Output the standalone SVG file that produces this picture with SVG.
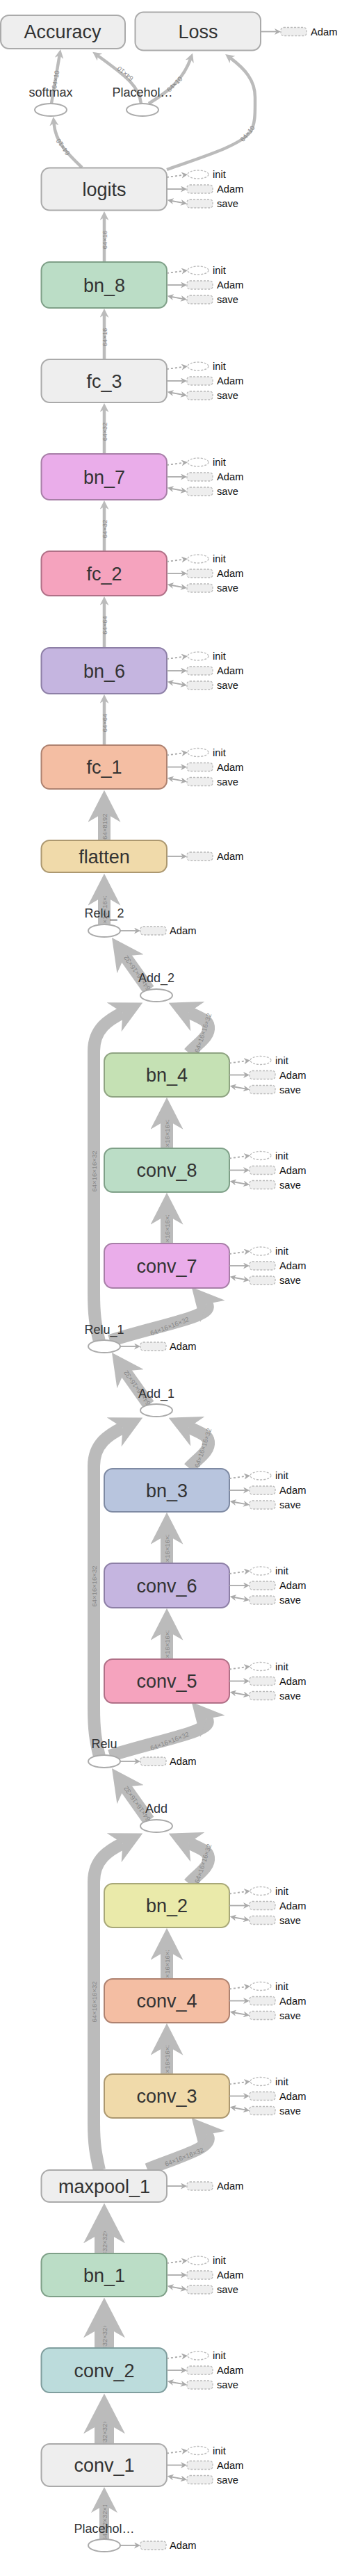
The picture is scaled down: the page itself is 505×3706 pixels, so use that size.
<svg xmlns="http://www.w3.org/2000/svg" width="505" height="3706" viewBox="0 0 505 3706">
<defs>
<style>
text{font-family:"Liberation Sans",Arial,sans-serif}
.bx{stroke-width:2}
.gr{fill:#eee;stroke:#aaa}
.g1{fill:#bbddc6;stroke:#7fa088}
.g2{fill:#eaadea;stroke:#a77fa7}
.g3{fill:#f5a3be;stroke:#b07087}
.g4{fill:#c5b5e0;stroke:#8d7fa6}
.g5{fill:#f4bea3;stroke:#ae8270}
.g6{fill:#f0daaa;stroke:#ac9870}
.g7{fill:#c5e1b4;stroke:#8fa482}
.g8{fill:#b8c5de;stroke:#7e8aa3}
.g9{fill:#eaeaaa;stroke:#a8a878}
.g10{fill:#bcdcdc;stroke:#809e9e}
.nl{font-size:27px;fill:#333;text-anchor:middle}
.ol{font-size:18px;fill:#333;text-anchor:middle}
.op{fill:#fff;stroke:#aaa;stroke-width:2}
.at{font-size:14.7px;fill:#111}
.di{fill:none;stroke:#bbb;stroke-width:1.3;stroke-dasharray:3,2}
.dr{fill:#eee;stroke:#bbb;stroke-width:1.3;stroke-dasharray:3,2}
.sl{fill:none;stroke:#aaa;stroke-width:1.8}
.sd{fill:none;stroke:#aaa;stroke-width:1.8;stroke-dasharray:3,3}
.e{fill:none;stroke:#bbb}
.w1{stroke-width:4.5}
.w2{stroke-width:18}
.w3{stroke-width:28}
.w4{stroke-width:14}
.lb{font-size:9.5px;fill:#888;text-anchor:middle;dominant-baseline:central}
</style>
<marker id="aS" viewBox="0 0 10 10" refX="3" refY="5" markerUnits="userSpaceOnUse" markerWidth="13" markerHeight="13" orient="auto" preserveAspectRatio="none"><path d="M0,0L10,5L0,10L3,5z" fill="#bbb"/></marker>
<marker id="aM" viewBox="0 0 10 10" refX="3" refY="5" markerUnits="userSpaceOnUse" markerWidth="46" markerHeight="47" orient="auto" preserveAspectRatio="none"><path d="M0,0L10,5L0,10L3,5z" fill="#bbb"/></marker>
<marker id="aL" viewBox="0 0 10 10" refX="3" refY="5" markerUnits="userSpaceOnUse" markerWidth="58" markerHeight="60" orient="auto" preserveAspectRatio="none"><path d="M0,0L10,5L0,10L3,5z" fill="#bbb"/></marker>
<marker id="aP" viewBox="0 0 10 10" refX="3" refY="5" markerUnits="userSpaceOnUse" markerWidth="37" markerHeight="38" orient="auto" preserveAspectRatio="none"><path d="M0,0L10,5L0,10L3,5z" fill="#bbb"/></marker>
<marker id="aT" viewBox="0 0 10 10" refX="3" refY="5" markerUnits="userSpaceOnUse" markerWidth="9" markerHeight="9" orient="auto" preserveAspectRatio="none"><path d="M0,0L10,5L0,10L3,5z" fill="#aaa"/></marker>
<marker id="aT2" viewBox="0 0 10 10" refX="3" refY="5" markerUnits="userSpaceOnUse" markerWidth="9" markerHeight="9" orient="auto-start-reverse" preserveAspectRatio="none"><path d="M0,0L10,5L0,10L3,5z" fill="#aaa"/></marker>
<clipPath id="k_c8"><rect x="140" y="1289" width="20" height="41"/></clipPath>
<clipPath id="k_b1d"><rect x="230" y="1611" width="20" height="41"/></clipPath>
<clipPath id="k_b1e"><rect x="230" y="1748" width="20" height="41"/></clipPath>
<clipPath id="k_b2d"><rect x="230" y="2208" width="20" height="41"/></clipPath>
<clipPath id="k_b2e"><rect x="230" y="2346" width="20" height="41"/></clipPath>
<clipPath id="k_b3d"><rect x="230" y="2806" width="20" height="41"/></clipPath>
<clipPath id="k_b3e"><rect x="230" y="2943" width="20" height="41"/></clipPath>
<clipPath id="k_d1"><rect x="140" y="3210" width="20" height="32"/></clipPath>
<clipPath id="k_d2"><rect x="140" y="3346" width="20" height="32"/></clipPath>
<clipPath id="k_d3"><rect x="140" y="3484" width="20" height="32"/></clipPath>
<clipPath id="k_d4"><rect x="140" y="3604" width="20" height="49"/></clipPath>
</defs>

<g id="connectors">
<path class="e w1" d="M118,241 C96,220 80,205 77.5,177" marker-end="url(#aS)"/>
<path class="e w1" d="M74,149 L85.6,80" marker-end="url(#aS)"/>
<path class="e w1" d="M203,149 C200,125 185,112 140.6,80" marker-end="url(#aS)"/>
<path class="e w1" d="M214,149 C238,134 262,118 274,85" marker-end="url(#aS)"/>
<path class="e w1" d="M240,244 C290,226 345,210 360,190 C368,178 367,160 367,140 C367,115 352,99 331.4,83.4" marker-end="url(#aS)"/>
<path class="e w1" d="M150,377 L150,313" marker-end="url(#aS)"/>
<path class="e w1" d="M150,517 L150,453" marker-end="url(#aS)"/>
<path class="e w1" d="M150,653 L150,589" marker-end="url(#aS)"/>
<path class="e w1" d="M150,793 L150,729" marker-end="url(#aS)"/>
<path class="e w1" d="M150,932 L150,867" marker-end="url(#aS)"/>
<path class="e w1" d="M150,1072 L150,1008" marker-end="url(#aS)"/>
<path class="e w2" d="M150,1209 L150,1169" marker-end="url(#aM)"/>
<path class="e w2" d="M150,1330 L150,1289" marker-end="url(#aM)"/>

<path class="e w2" d="M214,1424 L179.6,1375.4" marker-end="url(#aM)"/>
<path class="e w2" d="M143,1930 C137,1905 135,1890 135,1860 L135,1512 C135,1480 156.9,1466.8 176.5,1457" marker-end="url(#aM)"/>
<path class="e w2" d="M272,1515 C283,1502 302,1492 300,1477 C299,1468 290,1465 271.8,1456.4" marker-end="url(#aM)"/>
<path class="e w2" d="M240,1652 L240,1611" marker-end="url(#aM)"/>
<path class="e w2" d="M240,1789 L240,1748" marker-end="url(#aM)"/>
<path class="e w2" d="M158,1929 C230,1906 312,1893 297,1876" marker-end="url(#aM)"/>

<path class="e w2" d="M214,2021 L179.6,1972.4" marker-end="url(#aM)"/>
<path class="e w2" d="M143,2527 C137,2502 135,2487 135,2457 L135,2109 C135,2077 156.9,2063.8 176.5,2054" marker-end="url(#aM)"/>
<path class="e w2" d="M272,2112 C283,2099 302,2089 300,2074 C299,2065 290,2062 271.8,2053.4" marker-end="url(#aM)"/>
<path class="e w2" d="M240,2249 L240,2208" marker-end="url(#aM)"/>
<path class="e w2" d="M240,2387 L240,2346" marker-end="url(#aM)"/>
<path class="e w2" d="M158,2526 C230,2503 312,2490 297,2473" marker-end="url(#aM)"/>

<path class="e w2" d="M214,2619 L179.6,2570.4" marker-end="url(#aM)"/>
<path class="e w2" d="M143,3122 C138,3100 135,3085 135,3055 L135,2707 C135,2675 156.9,2661.8 176.5,2652" marker-end="url(#aM)"/>
<path class="e w2" d="M272,2710 C283,2697 302,2687 300,2672 C299,2663 290,2660 271.8,2651.4" marker-end="url(#aM)"/>
<path class="e w2" d="M240,2847 L240,2806" marker-end="url(#aM)"/>
<path class="e w2" d="M240,2984 L240,2943" marker-end="url(#aM)"/>
<path class="e w2" d="M212,3121 C262,3101 312,3088 297,3071" marker-end="url(#aM)"/>

<path class="e w3" d="M150,3242 L150,3210" marker-end="url(#aL)"/>
<path class="e w3" d="M150,3378 L150,3346" marker-end="url(#aL)"/>
<path class="e w3" d="M150,3516 L150,3484" marker-end="url(#aL)"/>
<path class="e w4" d="M150,3653 L150,3604" marker-end="url(#aP)"/>

<text class="lb" x="90.4" y="211.6" transform="rotate(-125.6 90.4 211.6)">64×10</text>
<text class="lb" x="79.8" y="114.5" transform="rotate(-80.5 79.8 114.5)">64×10</text>
<text class="lb" x="180" y="106" transform="rotate(-140 180 106)">64×10</text>
<text class="lb" x="251" y="121" transform="rotate(-45 251 121)">64×10</text>
<text class="lb" x="356" y="192" transform="rotate(-50 356 192)">64×10</text>
<text class="lb" x="150" y="345" transform="rotate(-90 150 345)">64×16</text>
<text class="lb" x="150" y="485" transform="rotate(-90 150 485)">64×16</text>
<text class="lb" x="150" y="621" transform="rotate(-90 150 621)">64×32</text>
<text class="lb" x="150" y="761" transform="rotate(-90 150 761)">64×32</text>
<text class="lb" x="150" y="899.5" transform="rotate(-90 150 899.5)">64×64</text>
<text class="lb" x="150" y="1040" transform="rotate(-90 150 1040)">64×64</text>
<text class="lb" x="150" y="1189" transform="rotate(-90 150 1189)">64×8192</text>
<g clip-path="url(#k_c8)"><text class="lb" x="150" y="1309.5" transform="rotate(-90 150 1309.5)">64×16×16×32</text></g>

<text class="lb" x="197" y="1400" transform="rotate(-125.3 197 1400)">64×16×16×32</text>
<text class="lb" x="135" y="1685" transform="rotate(-90 135 1685)">64×16×16×32</text>
<text class="lb" x="292" y="1486" transform="rotate(-72 292 1486)">64×16×16×32</text>
<g clip-path="url(#k_b1d)"><text class="lb" x="240" y="1631.5" transform="rotate(-90 240 1631.5)">64×16×16×32</text></g>
<g clip-path="url(#k_b1e)"><text class="lb" x="240" y="1768.5" transform="rotate(-90 240 1768.5)">64×16×16×32</text></g>
<text class="lb" x="244" y="1908" transform="rotate(-21 244 1908)">64×16×16×32</text>

<text class="lb" x="197" y="1997" transform="rotate(-125.3 197 1997)">64×16×16×32</text>
<text class="lb" x="135" y="2282" transform="rotate(-90 135 2282)">64×16×16×32</text>
<text class="lb" x="292" y="2083" transform="rotate(-72 292 2083)">64×16×16×32</text>
<g clip-path="url(#k_b2d)"><text class="lb" x="240" y="2228.5" transform="rotate(-90 240 2228.5)">64×16×16×32</text></g>
<g clip-path="url(#k_b2e)"><text class="lb" x="240" y="2366.5" transform="rotate(-90 240 2366.5)">64×16×16×32</text></g>
<text class="lb" x="244" y="2505" transform="rotate(-21 244 2505)">64×16×16×32</text>

<text class="lb" x="197" y="2595" transform="rotate(-125.3 197 2595)">64×16×16×32</text>
<text class="lb" x="135" y="2880" transform="rotate(-90 135 2880)">64×16×16×32</text>
<text class="lb" x="292" y="2681" transform="rotate(-72 292 2681)">64×16×16×32</text>
<g clip-path="url(#k_b3d)"><text class="lb" x="240" y="2826.5" transform="rotate(-90 240 2826.5)">64×16×16×32</text></g>
<g clip-path="url(#k_b3e)"><text class="lb" x="240" y="2963.5" transform="rotate(-90 240 2963.5)">64×16×16×32</text></g>
<text class="lb" x="265" y="3103" transform="rotate(-21 265 3103)">64×16×16×32</text>

<g clip-path="url(#k_d1)"><text class="lb" x="150" y="3226" transform="rotate(-90 150 3226)">64×32×32×32</text></g>
<g clip-path="url(#k_d2)"><text class="lb" x="150" y="3362" transform="rotate(-90 150 3362)">64×32×32×32</text></g>
<g clip-path="url(#k_d3)"><text class="lb" x="150" y="3500" transform="rotate(-90 150 3500)">64×32×32×32</text></g>
<g clip-path="url(#k_d4)"><text class="lb" x="150" y="3628.5" transform="rotate(-90 150 3628.5)">64×32×32×1</text></g>
</g>

<g id="Accuracy"><rect class="bx gr" x="1" y="22" width="179" height="48" rx="12"/><text class="nl" x="90" y="55">Accuracy</text></g>
<g id="Loss"><rect class="bx gr" x="194.5" y="17.5" width="180.5" height="55" rx="12"/><text class="nl" x="285" y="55">Loss</text>
<path class="sl" d="M375,45.5L397.7,45.5" marker-end="url(#aT)"/><rect class="dr" x="404" y="39.5" width="37" height="12" rx="4"/><text class="at" x="447" y="50.5">Adam</text></g>
<g id="softmax"><ellipse class="op" cx="73" cy="158" rx="23" ry="9"/><text class="ol" x="73" y="139">softmax</text></g>
<g id="Placeholder_1"><ellipse class="op" cx="205" cy="158" rx="23" ry="9"/><text class="ol" x="205" y="139">Placehol…</text></g>

<g id="logits"><rect class="bx gr" x="59.5" y="241.5" width="180.5" height="61" rx="12"/><text class="nl" x="150" y="281.5">logits</text>
<path class="sd" d="M240,255L263.8,251.8" marker-end="url(#aT)"/><ellipse class="di" cx="285" cy="251" rx="15" ry="6"/><text class="at" x="306" y="256">init</text>
<path class="sl" d="M240,272L262.7,272" marker-end="url(#aT)"/><rect class="dr" x="269" y="266" width="37" height="12" rx="4"/><text class="at" x="312" y="277">Adam</text>
<path class="sl" d="M247,289L262.8,291.9" marker-start="url(#aT2)" marker-end="url(#aT2)"/><rect class="dr" x="269" y="287" width="37" height="12" rx="4"/><text class="at" x="312" y="298">save</text></g>

<g id="bn_8"><rect class="bx g1" x="59.5" y="377" width="180.5" height="66" rx="12"/><text class="nl" x="150" y="419.5">bn_8</text>
<path class="sd" d="M240,393L263.8,389.8" marker-end="url(#aT)"/><ellipse class="di" cx="285" cy="389" rx="15" ry="6"/><text class="at" x="306" y="394">init</text>
<path class="sl" d="M240,410L262.7,410" marker-end="url(#aT)"/><rect class="dr" x="269" y="404" width="37" height="12" rx="4"/><text class="at" x="312" y="415">Adam</text>
<path class="sl" d="M247,427L262.8,429.9" marker-start="url(#aT2)" marker-end="url(#aT2)"/><rect class="dr" x="269" y="425" width="37" height="12" rx="4"/><text class="at" x="312" y="436">save</text></g>

<g id="fc_3"><rect class="bx gr" x="59.5" y="517" width="180.5" height="62" rx="12"/><text class="nl" x="150" y="557.5">fc_3</text>
<path class="sd" d="M240,531L263.8,527.8" marker-end="url(#aT)"/><ellipse class="di" cx="285" cy="527" rx="15" ry="6"/><text class="at" x="306" y="532">init</text>
<path class="sl" d="M240,548L262.7,548" marker-end="url(#aT)"/><rect class="dr" x="269" y="542" width="37" height="12" rx="4"/><text class="at" x="312" y="553">Adam</text>
<path class="sl" d="M247,565L262.8,567.9" marker-start="url(#aT2)" marker-end="url(#aT2)"/><rect class="dr" x="269" y="563" width="37" height="12" rx="4"/><text class="at" x="312" y="574">save</text></g>

<g id="bn_7"><rect class="bx g2" x="59.5" y="653" width="180.5" height="66" rx="12"/><text class="nl" x="150" y="695.5">bn_7</text>
<path class="sd" d="M240,669L263.8,665.8" marker-end="url(#aT)"/><ellipse class="di" cx="285" cy="665" rx="15" ry="6"/><text class="at" x="306" y="670">init</text>
<path class="sl" d="M240,686L262.7,686" marker-end="url(#aT)"/><rect class="dr" x="269" y="680" width="37" height="12" rx="4"/><text class="at" x="312" y="691">Adam</text>
<path class="sl" d="M247,703L262.8,705.9" marker-start="url(#aT2)" marker-end="url(#aT2)"/><rect class="dr" x="269" y="701" width="37" height="12" rx="4"/><text class="at" x="312" y="712">save</text></g>

<g id="fc_2"><rect class="bx g3" x="59.5" y="793" width="180.5" height="64" rx="12"/><text class="nl" x="150" y="834.5">fc_2</text>
<path class="sd" d="M240,808L263.8,804.8" marker-end="url(#aT)"/><ellipse class="di" cx="285" cy="804" rx="15" ry="6"/><text class="at" x="306" y="809">init</text>
<path class="sl" d="M240,825L262.7,825" marker-end="url(#aT)"/><rect class="dr" x="269" y="819" width="37" height="12" rx="4"/><text class="at" x="312" y="830">Adam</text>
<path class="sl" d="M247,842L262.8,844.9" marker-start="url(#aT2)" marker-end="url(#aT2)"/><rect class="dr" x="269" y="840" width="37" height="12" rx="4"/><text class="at" x="312" y="851">save</text></g>

<g id="bn_6"><rect class="bx g4" x="59.5" y="932" width="180.5" height="66" rx="12"/><text class="nl" x="150" y="974.5">bn_6</text>
<path class="sd" d="M240,948L263.8,944.8" marker-end="url(#aT)"/><ellipse class="di" cx="285" cy="944" rx="15" ry="6"/><text class="at" x="306" y="949">init</text>
<path class="sl" d="M240,965L262.7,965" marker-end="url(#aT)"/><rect class="dr" x="269" y="959" width="37" height="12" rx="4"/><text class="at" x="312" y="970">Adam</text>
<path class="sl" d="M247,982L262.8,984.9" marker-start="url(#aT2)" marker-end="url(#aT2)"/><rect class="dr" x="269" y="980" width="37" height="12" rx="4"/><text class="at" x="312" y="991">save</text></g>

<g id="fc_1"><rect class="bx g5" x="59.5" y="1072" width="180.5" height="63" rx="12"/><text class="nl" x="150" y="1113">fc_1</text>
<path class="sd" d="M240,1086.5L263.8,1083.3" marker-end="url(#aT)"/><ellipse class="di" cx="285" cy="1082.5" rx="15" ry="6"/><text class="at" x="306" y="1087.5">init</text>
<path class="sl" d="M240,1103.5L262.7,1103.5" marker-end="url(#aT)"/><rect class="dr" x="269" y="1097.5" width="37" height="12" rx="4"/><text class="at" x="312" y="1108.5">Adam</text>
<path class="sl" d="M247,1120.5L262.8,1123.4" marker-start="url(#aT2)" marker-end="url(#aT2)"/><rect class="dr" x="269" y="1118.5" width="37" height="12" rx="4"/><text class="at" x="312" y="1129.5">save</text></g>

<g id="flatten"><rect class="bx g6" x="59.5" y="1209" width="180.5" height="46" rx="12"/><text class="nl" x="150" y="1241.5">flatten</text>
<path class="sl" d="M240,1232L262.7,1232" marker-end="url(#aT)"/><rect class="dr" x="269" y="1226" width="37" height="12" rx="4"/><text class="at" x="312" y="1237">Adam</text></g>

<g id="Relu_2"><ellipse class="op" cx="150" cy="1339" rx="23" ry="9"/><text class="ol" x="150" y="1320">Relu_2</text>
<path class="sl" d="M173,1339L195.7,1339" marker-end="url(#aT)"/><rect class="dr" x="202" y="1333" width="37" height="12" rx="4"/><text class="at" x="244" y="1344">Adam</text></g>
<g id="Add_2"><ellipse class="op" cx="225" cy="1432" rx="23" ry="9"/><text class="ol" x="225" y="1413">Add_2</text></g>

<g id="bn_4"><rect class="bx g7" x="150" y="1515" width="180" height="63" rx="12"/><text class="nl" x="240" y="1556">bn_4</text>
<path class="sd" d="M330,1529.5L353.8,1526.3" marker-end="url(#aT)"/><ellipse class="di" cx="375" cy="1525.5" rx="15" ry="6"/><text class="at" x="396" y="1530.5">init</text>
<path class="sl" d="M330,1546.5L352.7,1546.5" marker-end="url(#aT)"/><rect class="dr" x="359" y="1540.5" width="37" height="12" rx="4"/><text class="at" x="402" y="1551.5">Adam</text>
<path class="sl" d="M337,1563.5L352.8,1566.4" marker-start="url(#aT2)" marker-end="url(#aT2)"/><rect class="dr" x="359" y="1561.5" width="37" height="12" rx="4"/><text class="at" x="402" y="1572.5">save</text></g>

<g id="conv_8"><rect class="bx g1" x="150" y="1652" width="180" height="63" rx="12"/><text class="nl" x="240" y="1693">conv_8</text>
<path class="sd" d="M330,1666.5L353.8,1663.3" marker-end="url(#aT)"/><ellipse class="di" cx="375" cy="1662.5" rx="15" ry="6"/><text class="at" x="396" y="1667.5">init</text>
<path class="sl" d="M330,1683.5L352.7,1683.5" marker-end="url(#aT)"/><rect class="dr" x="359" y="1677.5" width="37" height="12" rx="4"/><text class="at" x="402" y="1688.5">Adam</text>
<path class="sl" d="M337,1700.5L352.8,1703.4" marker-start="url(#aT2)" marker-end="url(#aT2)"/><rect class="dr" x="359" y="1698.5" width="37" height="12" rx="4"/><text class="at" x="402" y="1709.5">save</text></g>

<g id="conv_7"><rect class="bx g2" x="150" y="1789" width="180" height="64" rx="12"/><text class="nl" x="240" y="1830.5">conv_7</text>
<path class="sd" d="M330,1804L353.8,1800.8" marker-end="url(#aT)"/><ellipse class="di" cx="375" cy="1800" rx="15" ry="6"/><text class="at" x="396" y="1805">init</text>
<path class="sl" d="M330,1821L352.7,1821" marker-end="url(#aT)"/><rect class="dr" x="359" y="1815" width="37" height="12" rx="4"/><text class="at" x="402" y="1826">Adam</text>
<path class="sl" d="M337,1838L352.8,1840.9" marker-start="url(#aT2)" marker-end="url(#aT2)"/><rect class="dr" x="359" y="1836" width="37" height="12" rx="4"/><text class="at" x="402" y="1847">save</text></g>

<g id="Relu_1"><ellipse class="op" cx="150" cy="1937" rx="23" ry="9"/><text class="ol" x="150" y="1919">Relu_1</text>
<path class="sl" d="M173,1937L195.7,1937" marker-end="url(#aT)"/><rect class="dr" x="202" y="1931" width="37" height="12" rx="4"/><text class="at" x="244" y="1942">Adam</text></g>
<g id="Add_1"><ellipse class="op" cx="225" cy="2029" rx="23" ry="9"/><text class="ol" x="225" y="2011">Add_1</text></g>

<g id="bn_3"><rect class="bx g8" x="150" y="2113" width="180" height="62" rx="12"/><text class="nl" x="240" y="2153.5">bn_3</text>
<path class="sd" d="M330,2127L353.8,2123.8" marker-end="url(#aT)"/><ellipse class="di" cx="375" cy="2123" rx="15" ry="6"/><text class="at" x="396" y="2128">init</text>
<path class="sl" d="M330,2144L352.7,2144" marker-end="url(#aT)"/><rect class="dr" x="359" y="2138" width="37" height="12" rx="4"/><text class="at" x="402" y="2149">Adam</text>
<path class="sl" d="M337,2161L352.8,2163.9" marker-start="url(#aT2)" marker-end="url(#aT2)"/><rect class="dr" x="359" y="2159" width="37" height="12" rx="4"/><text class="at" x="402" y="2170">save</text></g>

<g id="conv_6"><rect class="bx g4" x="150" y="2249" width="180" height="64" rx="12"/><text class="nl" x="240" y="2290.5">conv_6</text>
<path class="sd" d="M330,2264L353.8,2260.8" marker-end="url(#aT)"/><ellipse class="di" cx="375" cy="2260" rx="15" ry="6"/><text class="at" x="396" y="2265">init</text>
<path class="sl" d="M330,2281L352.7,2281" marker-end="url(#aT)"/><rect class="dr" x="359" y="2275" width="37" height="12" rx="4"/><text class="at" x="402" y="2286">Adam</text>
<path class="sl" d="M337,2298L352.8,2300.9" marker-start="url(#aT2)" marker-end="url(#aT2)"/><rect class="dr" x="359" y="2296" width="37" height="12" rx="4"/><text class="at" x="402" y="2307">save</text></g>

<g id="conv_5"><rect class="bx g3" x="150" y="2387" width="180" height="63" rx="12"/><text class="nl" x="240" y="2428">conv_5</text>
<path class="sd" d="M330,2401.5L353.8,2398.3" marker-end="url(#aT)"/><ellipse class="di" cx="375" cy="2397.5" rx="15" ry="6"/><text class="at" x="396" y="2402.5">init</text>
<path class="sl" d="M330,2418.5L352.7,2418.5" marker-end="url(#aT)"/><rect class="dr" x="359" y="2412.5" width="37" height="12" rx="4"/><text class="at" x="402" y="2423.5">Adam</text>
<path class="sl" d="M337,2435.5L352.8,2438.4" marker-start="url(#aT2)" marker-end="url(#aT2)"/><rect class="dr" x="359" y="2433.5" width="37" height="12" rx="4"/><text class="at" x="402" y="2444.5">save</text></g>

<g id="Relu"><ellipse class="op" cx="150" cy="2534" rx="23" ry="9"/><text class="ol" x="150" y="2515">Relu</text>
<path class="sl" d="M173,2534L195.7,2534" marker-end="url(#aT)"/><rect class="dr" x="202" y="2528" width="37" height="12" rx="4"/><text class="at" x="244" y="2539">Adam</text></g>
<g id="Add"><ellipse class="op" cx="225" cy="2627" rx="23" ry="9"/><text class="ol" x="225" y="2608">Add</text></g>

<g id="bn_2"><rect class="bx g9" x="150" y="2710" width="180" height="63" rx="12"/><text class="nl" x="240" y="2751">bn_2</text>
<path class="sd" d="M330,2724.5L353.8,2721.3" marker-end="url(#aT)"/><ellipse class="di" cx="375" cy="2720.5" rx="15" ry="6"/><text class="at" x="396" y="2725.5">init</text>
<path class="sl" d="M330,2741.5L352.7,2741.5" marker-end="url(#aT)"/><rect class="dr" x="359" y="2735.5" width="37" height="12" rx="4"/><text class="at" x="402" y="2746.5">Adam</text>
<path class="sl" d="M337,2758.5L352.8,2761.4" marker-start="url(#aT2)" marker-end="url(#aT2)"/><rect class="dr" x="359" y="2756.5" width="37" height="12" rx="4"/><text class="at" x="402" y="2767.5">save</text></g>

<g id="conv_4"><rect class="bx g5" x="150" y="2847" width="180" height="63" rx="12"/><text class="nl" x="240" y="2888">conv_4</text>
<path class="sd" d="M330,2861.5L353.8,2858.3" marker-end="url(#aT)"/><ellipse class="di" cx="375" cy="2857.5" rx="15" ry="6"/><text class="at" x="396" y="2862.5">init</text>
<path class="sl" d="M330,2878.5L352.7,2878.5" marker-end="url(#aT)"/><rect class="dr" x="359" y="2872.5" width="37" height="12" rx="4"/><text class="at" x="402" y="2883.5">Adam</text>
<path class="sl" d="M337,2895.5L352.8,2898.4" marker-start="url(#aT2)" marker-end="url(#aT2)"/><rect class="dr" x="359" y="2893.5" width="37" height="12" rx="4"/><text class="at" x="402" y="2904.5">save</text></g>

<g id="conv_3"><rect class="bx g6" x="150" y="2984" width="180" height="63" rx="12"/><text class="nl" x="240" y="3025">conv_3</text>
<path class="sd" d="M330,2998.5L353.8,2995.3" marker-end="url(#aT)"/><ellipse class="di" cx="375" cy="2994.5" rx="15" ry="6"/><text class="at" x="396" y="2999.5">init</text>
<path class="sl" d="M330,3015.5L352.7,3015.5" marker-end="url(#aT)"/><rect class="dr" x="359" y="3009.5" width="37" height="12" rx="4"/><text class="at" x="402" y="3020.5">Adam</text>
<path class="sl" d="M337,3032.5L352.8,3035.4" marker-start="url(#aT2)" marker-end="url(#aT2)"/><rect class="dr" x="359" y="3030.5" width="37" height="12" rx="4"/><text class="at" x="402" y="3041.5">save</text></g>

<g id="maxpool_1"><rect class="bx gr" x="59.5" y="3122" width="180.5" height="46" rx="12"/><text class="nl" x="150" y="3154.5">maxpool_1</text>
<path class="sl" d="M240,3145L262.7,3145" marker-end="url(#aT)"/><rect class="dr" x="269" y="3139" width="37" height="12" rx="4"/><text class="at" x="312" y="3150">Adam</text></g>

<g id="bn_1"><rect class="bx g1" x="59.5" y="3242" width="180.5" height="62" rx="12"/><text class="nl" x="150" y="3282.5">bn_1</text>
<path class="sd" d="M240,3256L263.8,3252.8" marker-end="url(#aT)"/><ellipse class="di" cx="285" cy="3252" rx="15" ry="6"/><text class="at" x="306" y="3257">init</text>
<path class="sl" d="M240,3273L262.7,3273" marker-end="url(#aT)"/><rect class="dr" x="269" y="3267" width="37" height="12" rx="4"/><text class="at" x="312" y="3278">Adam</text>
<path class="sl" d="M247,3290L262.8,3292.9" marker-start="url(#aT2)" marker-end="url(#aT2)"/><rect class="dr" x="269" y="3288" width="37" height="12" rx="4"/><text class="at" x="312" y="3299">save</text></g>

<g id="conv_2"><rect class="bx g10" x="59.5" y="3378" width="180.5" height="64" rx="12"/><text class="nl" x="150" y="3419.5">conv_2</text>
<path class="sd" d="M240,3393L263.8,3389.8" marker-end="url(#aT)"/><ellipse class="di" cx="285" cy="3389" rx="15" ry="6"/><text class="at" x="306" y="3394">init</text>
<path class="sl" d="M240,3410L262.7,3410" marker-end="url(#aT)"/><rect class="dr" x="269" y="3404" width="37" height="12" rx="4"/><text class="at" x="312" y="3415">Adam</text>
<path class="sl" d="M247,3427L262.8,3429.9" marker-start="url(#aT2)" marker-end="url(#aT2)"/><rect class="dr" x="269" y="3425" width="37" height="12" rx="4"/><text class="at" x="312" y="3436">save</text></g>

<g id="conv_1"><rect class="bx gr" x="59.5" y="3516" width="180.5" height="61" rx="12"/><text class="nl" x="150" y="3556">conv_1</text>
<path class="sd" d="M240,3529.5L263.8,3526.3" marker-end="url(#aT)"/><ellipse class="di" cx="285" cy="3525.5" rx="15" ry="6"/><text class="at" x="306" y="3530.5">init</text>
<path class="sl" d="M240,3546.5L262.7,3546.5" marker-end="url(#aT)"/><rect class="dr" x="269" y="3540.5" width="37" height="12" rx="4"/><text class="at" x="312" y="3551.5">Adam</text>
<path class="sl" d="M247,3563.5L262.8,3566.4" marker-start="url(#aT2)" marker-end="url(#aT2)"/><rect class="dr" x="269" y="3561.5" width="37" height="12" rx="4"/><text class="at" x="312" y="3572.5">save</text></g>

<g id="Placeholder"><ellipse class="op" cx="150" cy="3662" rx="23" ry="9"/><text class="ol" x="150" y="3644">Placehol…</text>
<path class="sl" d="M173,3662L195.7,3662" marker-end="url(#aT)"/><rect class="dr" x="202" y="3656" width="37" height="12" rx="4"/><text class="at" x="244" y="3667">Adam</text></g>
</svg>
